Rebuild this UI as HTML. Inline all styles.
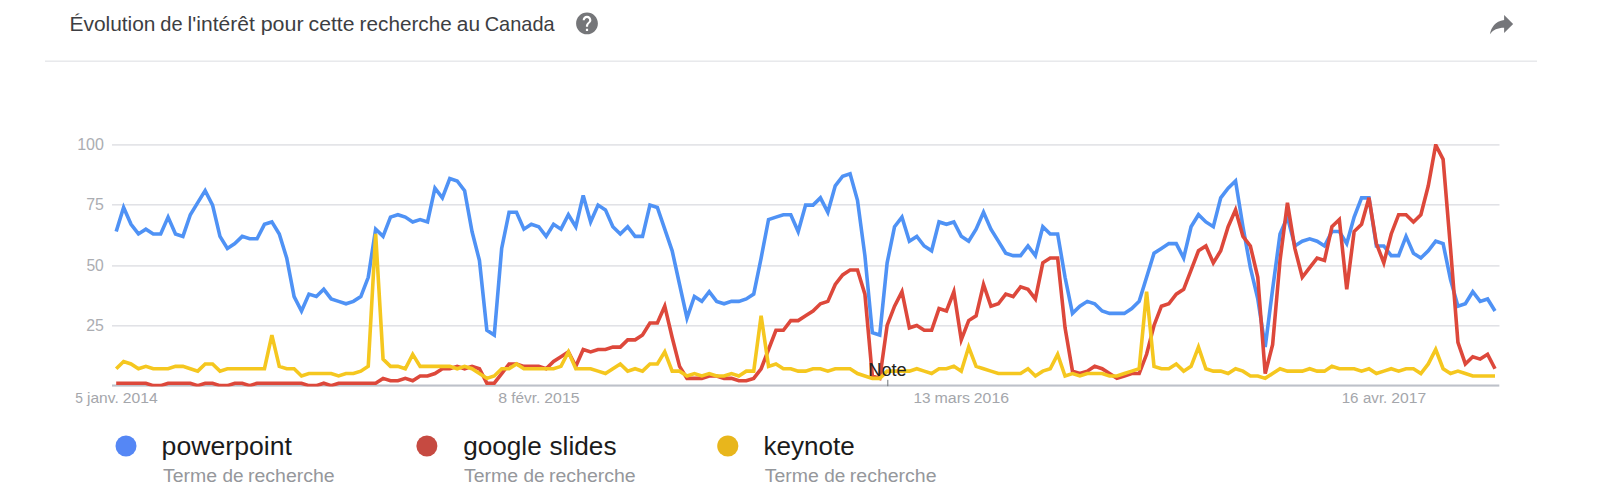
<!DOCTYPE html>
<html><head><meta charset="utf-8"><title>Trends</title>
<style>
html,body{margin:0;padding:0;background:#fff;}
body{width:1600px;height:500px;overflow:hidden;font-family:"Liberation Sans",sans-serif;}
svg{display:block;}
text{font-family:"Liberation Sans",sans-serif;}
</style></head><body>
<svg width="1600" height="500" viewBox="0 0 1600 500">
<rect width="1600" height="500" fill="#fff"/>
<!-- header -->
<g transform="translate(573.92,10.32) scale(1.09)"><path fill="#757679" d="M12 2C6.48 2 2 6.48 2 12s4.48 10 10 10 10-4.48 10-10S17.52 2 12 2zm1 17h-2v-2h2v2zm2.07-7.75l-.9.92C13.45 12.9 13 13.5 13 15h-2v-.5c0-1.1.45-2.1 1.17-2.83l1.24-1.26c.37-.36.59-.86.59-1.41 0-1.1-.9-2-2-2s-2 .9-2 2H8c0-2.21 1.79-4 4-4s4 1.79 4 4c0 .88-.36 1.68-.93 2.25z"/></g>
<g transform="translate(1517,8.6) scale(-1.289,1.28)"><path d="M10 9V5l-7 7 7 7v-4.1c5 0 8.5 1.6 11 5.1-1-5-4-10-11-11z" fill="#75767a"/></g>
<rect x="45" y="60.5" width="1492" height="1.4" fill="#e6e7ea"/>
<!-- grid -->
<g fill="#e0e1e5">
<rect x="112" y="144.15" width="1387.5" height="1.5"/>
<rect x="112" y="204.05" width="1387.5" height="1.5"/>
<rect x="112" y="265.15" width="1387.5" height="1.5"/>
<rect x="112" y="325.05" width="1387.5" height="1.5"/>
</g>
<rect x="112" y="384.5" width="1387.3" height="2.1" fill="#bdc1c9"/>
<!-- series -->
<clipPath id="cp"><rect x="111" y="144" width="1390" height="242.4"/></clipPath>
<g clip-path="url(#cp)" fill="none" stroke-width="3.6" stroke-linejoin="miter" stroke-miterlimit="3.95" stroke-linecap="butt">
<path stroke="#4f92f5" d="M116.20,231.55 L123.61,207.48 L131.03,224.33 L138.44,233.96 L145.85,229.15 L153.26,233.96 L160.68,233.96 L168.09,217.11 L175.50,233.96 L182.92,236.37 L190.33,214.70 L197.74,202.67 L205.15,190.63 L212.57,205.08 L219.98,236.37 L227.39,248.40 L234.81,243.59 L242.22,236.37 L249.63,238.77 L257.05,238.77 L264.46,224.33 L271.87,221.92 L279.28,233.96 L286.70,258.03 L294.11,296.54 L301.52,310.98 L308.94,294.13 L316.35,296.54 L323.76,289.32 L331.17,298.95 L338.59,301.36 L346.00,303.76 L353.41,301.36 L360.83,296.54 L368.24,277.29 L375.65,229.15 L383.06,236.37 L390.48,217.11 L397.89,214.70 L405.30,217.11 L412.72,221.92 L420.13,219.52 L427.54,221.92 L434.95,188.23 L442.37,197.85 L449.78,178.60 L457.19,181.01 L464.61,190.63 L472.02,231.55 L479.43,260.44 L486.85,330.24 L494.26,335.05 L501.67,248.40 L509.08,212.30 L516.50,212.30 L523.91,229.15 L531.32,224.33 L538.74,226.74 L546.15,236.37 L553.56,224.33 L560.97,229.15 L568.39,214.70 L575.80,226.74 L583.21,195.45 L590.63,221.92 L598.04,205.08 L605.45,209.89 L612.86,226.74 L620.28,233.96 L627.69,226.74 L635.10,236.37 L642.52,236.37 L649.93,205.08 L657.34,207.48 L664.75,229.15 L672.17,250.81 L679.58,284.51 L686.99,318.20 L694.41,296.54 L701.82,301.36 L709.23,291.73 L716.65,301.36 L724.06,303.76 L731.47,301.36 L738.88,301.36 L746.30,298.95 L753.71,294.13 L761.12,258.03 L768.54,219.52 L775.95,217.11 L783.36,214.70 L790.77,214.70 L798.19,231.55 L805.60,205.08 L813.01,205.08 L820.43,197.85 L827.84,212.30 L835.25,185.82 L842.66,176.19 L850.08,173.78 L857.49,200.26 L864.90,255.62 L872.32,332.65 L879.73,335.05 L887.14,262.84 L894.55,226.74 L901.97,217.11 L909.38,241.18 L916.79,236.37 L924.21,245.99 L931.62,250.81 L939.03,221.92 L946.45,224.33 L953.86,221.92 L961.27,236.37 L968.68,241.18 L976.10,229.15 L983.51,212.30 L990.92,229.15 L998.34,241.18 L1005.75,253.22 L1013.16,255.62 L1020.57,255.62 L1027.99,245.99 L1035.40,255.62 L1042.81,226.74 L1050.23,233.96 L1057.64,233.96 L1065.05,277.29 L1072.46,313.39 L1079.88,306.17 L1087.29,301.36 L1094.70,303.76 L1102.12,310.98 L1109.53,313.39 L1116.94,313.39 L1124.35,313.39 L1131.77,308.58 L1139.18,301.36 L1146.59,277.29 L1154.01,253.22 L1161.42,248.40 L1168.83,243.59 L1176.25,243.59 L1183.66,258.03 L1191.07,226.74 L1198.48,214.70 L1205.90,221.92 L1213.31,226.74 L1220.72,197.85 L1228.14,188.23 L1235.55,181.01 L1242.96,226.74 L1250.37,267.66 L1257.79,298.95 L1265.20,347.09 L1272.61,289.32 L1280.03,233.96 L1287.44,217.11 L1294.85,245.99 L1302.26,241.18 L1309.68,238.77 L1317.09,241.18 L1324.50,245.99 L1331.92,231.55 L1339.33,231.55 L1346.74,243.59 L1354.15,217.11 L1361.57,197.85 L1368.98,197.85 L1376.39,245.99 L1383.81,245.99 L1391.22,255.62 L1398.63,255.62 L1406.05,236.37 L1413.46,253.22 L1420.87,258.03 L1428.28,250.81 L1435.70,241.18 L1443.11,243.59 L1450.52,279.69 L1457.94,306.17 L1465.35,303.76 L1472.76,291.73 L1480.17,301.36 L1487.59,298.95 L1495.00,310.98"/>
<path stroke="#dd483b" d="M116.20,383.19 L123.61,383.19 L131.03,383.19 L138.44,383.19 L145.85,383.19 L153.26,385.60 L160.68,385.60 L168.09,383.19 L175.50,383.19 L182.92,383.19 L190.33,383.19 L197.74,385.60 L205.15,383.19 L212.57,383.19 L219.98,385.60 L227.39,385.60 L234.81,383.19 L242.22,383.19 L249.63,385.60 L257.05,383.19 L264.46,383.19 L271.87,383.19 L279.28,383.19 L286.70,383.19 L294.11,383.19 L301.52,383.19 L308.94,385.60 L316.35,385.60 L323.76,383.19 L331.17,385.60 L338.59,383.19 L346.00,383.19 L353.41,383.19 L360.83,383.19 L368.24,383.19 L375.65,383.19 L383.06,378.38 L390.48,380.79 L397.89,380.79 L405.30,378.38 L412.72,380.79 L420.13,375.97 L427.54,375.97 L434.95,373.56 L442.37,368.75 L449.78,368.75 L457.19,366.34 L464.61,368.75 L472.02,366.34 L479.43,368.75 L486.85,383.19 L494.26,383.19 L501.67,373.56 L509.08,363.94 L516.50,363.94 L523.91,366.34 L531.32,366.34 L538.74,366.34 L546.15,368.75 L553.56,361.53 L560.97,356.72 L568.39,351.90 L575.80,366.34 L583.21,349.50 L590.63,351.90 L598.04,349.50 L605.45,349.50 L612.86,347.09 L620.28,347.09 L627.69,339.87 L635.10,339.87 L642.52,335.05 L649.93,323.02 L657.34,323.02 L664.75,306.17 L672.17,337.46 L679.58,366.34 L686.99,378.38 L694.41,378.38 L701.82,378.38 L709.23,375.97 L716.65,375.97 L724.06,378.38 L731.47,378.38 L738.88,380.79 L746.30,380.79 L753.71,378.38 L761.12,368.75 L768.54,349.50 L775.95,330.24 L783.36,330.24 L790.77,320.61 L798.19,320.61 L805.60,315.80 L813.01,310.98 L820.43,303.76 L827.84,301.36 L835.25,284.51 L842.66,274.88 L850.08,270.06 L857.49,270.06 L864.90,294.13 L872.32,375.97 L879.73,378.38 L887.14,325.43 L894.55,306.17 L901.97,291.73 L909.38,327.83 L916.79,325.43 L924.21,330.24 L931.62,330.24 L939.03,308.58 L946.45,310.98 L953.86,291.73 L961.27,339.87 L968.68,320.61 L976.10,315.80 L983.51,284.51 L990.92,306.17 L998.34,303.76 L1005.75,294.13 L1013.16,296.54 L1020.57,286.91 L1027.99,289.32 L1035.40,298.95 L1042.81,262.84 L1050.23,258.03 L1057.64,258.03 L1065.05,327.83 L1072.46,371.16 L1079.88,373.56 L1087.29,371.16 L1094.70,366.34 L1102.12,368.75 L1109.53,373.56 L1116.94,378.38 L1124.35,375.97 L1131.77,373.56 L1139.18,373.56 L1146.59,354.31 L1154.01,325.43 L1161.42,306.17 L1168.83,303.76 L1176.25,294.13 L1183.66,289.32 L1191.07,270.06 L1198.48,250.81 L1205.90,245.99 L1213.31,262.84 L1220.72,250.81 L1228.14,226.74 L1235.55,209.89 L1242.96,236.37 L1250.37,245.99 L1257.79,277.29 L1265.20,373.56 L1272.61,344.68 L1280.03,260.44 L1287.44,202.67 L1294.85,248.40 L1302.26,277.29 L1309.68,267.66 L1317.09,258.03 L1324.50,260.44 L1331.92,226.74 L1339.33,219.52 L1346.74,289.32 L1354.15,231.55 L1361.57,224.33 L1368.98,197.85 L1376.39,243.59 L1383.81,262.84 L1391.22,233.96 L1398.63,214.70 L1406.05,214.70 L1413.46,221.92 L1420.87,214.70 L1428.28,185.82 L1435.70,144.90 L1443.11,159.34 L1450.52,248.40 L1457.94,342.27 L1465.35,363.94 L1472.76,356.72 L1480.17,359.12 L1487.59,354.31 L1495.00,368.75"/>
<path stroke="#f5c71f" d="M116.20,368.75 L123.61,361.53 L131.03,363.94 L138.44,368.75 L145.85,366.34 L153.26,368.75 L160.68,368.75 L168.09,368.75 L175.50,366.34 L182.92,366.34 L190.33,368.75 L197.74,371.16 L205.15,363.94 L212.57,363.94 L219.98,371.16 L227.39,368.75 L234.81,368.75 L242.22,368.75 L249.63,368.75 L257.05,368.75 L264.46,368.75 L271.87,335.05 L279.28,366.34 L286.70,368.75 L294.11,368.75 L301.52,375.97 L308.94,373.56 L316.35,373.56 L323.76,373.56 L331.17,373.56 L338.59,375.97 L346.00,373.56 L353.41,373.56 L360.83,371.16 L368.24,366.34 L375.65,233.96 L383.06,359.12 L390.48,366.34 L397.89,366.34 L405.30,368.75 L412.72,354.31 L420.13,366.34 L427.54,366.34 L434.95,366.34 L442.37,366.34 L449.78,366.34 L457.19,368.75 L464.61,366.34 L472.02,368.75 L479.43,373.56 L486.85,378.38 L494.26,375.97 L501.67,368.75 L509.08,368.75 L516.50,363.94 L523.91,368.75 L531.32,368.75 L538.74,368.75 L546.15,368.75 L553.56,368.75 L560.97,366.34 L568.39,351.90 L575.80,368.75 L583.21,368.75 L590.63,368.75 L598.04,371.16 L605.45,373.56 L612.86,368.75 L620.28,363.94 L627.69,371.16 L635.10,368.75 L642.52,371.16 L649.93,363.94 L657.34,363.94 L664.75,351.90 L672.17,371.16 L679.58,371.16 L686.99,375.97 L694.41,373.56 L701.82,375.97 L709.23,373.56 L716.65,375.97 L724.06,375.97 L731.47,373.56 L738.88,375.97 L746.30,371.16 L753.71,371.16 L761.12,315.80 L768.54,366.34 L775.95,363.94 L783.36,368.75 L790.77,368.75 L798.19,371.16 L805.60,371.16 L813.01,368.75 L820.43,368.75 L827.84,371.16 L835.25,368.75 L842.66,368.75 L850.08,368.75 L857.49,373.56 L864.90,375.97 L872.32,378.38 L879.73,378.38 L887.14,371.16 L894.55,371.16 L901.97,371.16 L909.38,371.16 L916.79,368.75 L924.21,371.16 L931.62,373.56 L939.03,368.75 L946.45,368.75 L953.86,366.34 L961.27,371.16 L968.68,347.09 L976.10,366.34 L983.51,368.75 L990.92,371.16 L998.34,373.56 L1005.75,373.56 L1013.16,373.56 L1020.57,373.56 L1027.99,368.75 L1035.40,375.97 L1042.81,371.16 L1050.23,368.75 L1057.64,354.31 L1065.05,375.97 L1072.46,373.56 L1079.88,375.97 L1087.29,373.56 L1094.70,373.56 L1102.12,373.56 L1109.53,375.97 L1116.94,375.97 L1124.35,373.56 L1131.77,371.16 L1139.18,368.75 L1146.59,291.73 L1154.01,366.34 L1161.42,368.75 L1168.83,368.75 L1176.25,363.94 L1183.66,371.16 L1191.07,366.34 L1198.48,347.09 L1205.90,368.75 L1213.31,371.16 L1220.72,371.16 L1228.14,373.56 L1235.55,368.75 L1242.96,371.16 L1250.37,375.97 L1257.79,375.97 L1265.20,378.38 L1272.61,373.56 L1280.03,368.75 L1287.44,371.16 L1294.85,371.16 L1302.26,371.16 L1309.68,368.75 L1317.09,371.16 L1324.50,371.16 L1331.92,366.34 L1339.33,368.75 L1346.74,368.75 L1354.15,368.75 L1361.57,371.16 L1368.98,368.75 L1376.39,373.56 L1383.81,371.16 L1391.22,368.75 L1398.63,371.16 L1406.05,368.75 L1413.46,368.75 L1420.87,373.56 L1428.28,363.94 L1435.70,349.50 L1443.11,368.75 L1450.52,373.56 L1457.94,371.16 L1465.35,373.56 L1472.76,375.97 L1480.17,375.97 L1487.59,375.97 L1495.00,375.97"/>
</g>
<!-- note -->
<rect x="887.3" y="379.8" width="1" height="6.4" fill="#70757a"/>
<text transform="translate(868.30,376.3) scale(1.0400,1)" font-size="17.5" font-weight="normal" fill="#222">Note</text>
<!-- texts -->
<text transform="translate(69.48,31.3) scale(1.0459,1)" font-size="20" font-weight="normal" fill="#3d3e42">Évolution</text>
<text transform="translate(160.35,31.3) scale(1.0024,1)" font-size="20" font-weight="normal" fill="#3d3e42">de</text>
<text transform="translate(187.58,31.3) scale(1.0528,1)" font-size="20" font-weight="normal" fill="#3d3e42">l'intérêt</text>
<text transform="translate(260.66,31.3) scale(1.0727,1)" font-size="20" font-weight="normal" fill="#3d3e42">pour</text>
<text transform="translate(308.61,31.3) scale(1.0587,1)" font-size="20" font-weight="normal" fill="#3d3e42">cette</text>
<text transform="translate(359.60,31.3) scale(1.0363,1)" font-size="20" font-weight="normal" fill="#3d3e42">recherche</text>
<text transform="translate(456.82,31.3) scale(1.0420,1)" font-size="20" font-weight="normal" fill="#3d3e42">au</text>
<text transform="translate(484.70,31.3) scale(0.9978,1)" font-size="20" font-weight="normal" fill="#3d3e42">Canada</text>
<text transform="translate(77.17,149.9) scale(1.0286,1)" font-size="15.6" font-weight="normal" fill="#abadb2">100</text>
<text transform="translate(86.14,209.8) scale(1.0187,1)" font-size="15.6" font-weight="normal" fill="#abadb2">75</text>
<text transform="translate(86.40,270.9) scale(1.0031,1)" font-size="15.6" font-weight="normal" fill="#abadb2">50</text>
<text transform="translate(86.14,330.8) scale(1.0187,1)" font-size="15.6" font-weight="normal" fill="#abadb2">25</text>
<text transform="translate(75.15,402.9) scale(0.9067,1)" font-size="15.2" font-weight="normal" fill="#a4a6ab">5</text>
<text transform="translate(87.01,402.9) scale(1.0248,1)" font-size="15.2" font-weight="normal" fill="#a4a6ab">janv.</text>
<text transform="translate(122.83,402.9) scale(1.0321,1)" font-size="15.2" font-weight="normal" fill="#a4a6ab">2014</text>
<text transform="translate(498.28,402.9) scale(1.0483,1)" font-size="15.2" font-weight="normal" fill="#a4a6ab">8</text>
<text transform="translate(511.25,402.9) scale(1.0092,1)" font-size="15.2" font-weight="normal" fill="#a4a6ab">févr.</text>
<text transform="translate(544.32,402.9) scale(1.0400,1)" font-size="15.2" font-weight="normal" fill="#a4a6ab">2015</text>
<text transform="translate(913.49,402.9) scale(1.0098,1)" font-size="15.2" font-weight="normal" fill="#a4a6ab">13</text>
<text transform="translate(934.45,402.9) scale(1.0543,1)" font-size="15.2" font-weight="normal" fill="#a4a6ab">mars</text>
<text transform="translate(973.82,402.9) scale(1.0400,1)" font-size="15.2" font-weight="normal" fill="#a4a6ab">2016</text>
<text transform="translate(1341.70,402.9) scale(0.9967,1)" font-size="15.2" font-weight="normal" fill="#a4a6ab">16</text>
<text transform="translate(1363.01,402.9) scale(0.9890,1)" font-size="15.2" font-weight="normal" fill="#a4a6ab">avr.</text>
<text transform="translate(1391.33,402.9) scale(1.0326,1)" font-size="15.2" font-weight="normal" fill="#a4a6ab">2017</text>
<text transform="translate(161.60,454.7) scale(1.0667,1)" font-size="25" font-weight="normal" fill="#1b1b1b">powerpoint</text>
<text transform="translate(463.15,454.7) scale(1.0466,1)" font-size="25" font-weight="normal" fill="#1b1b1b">google</text>
<text transform="translate(549.51,454.7) scale(1.0490,1)" font-size="25" font-weight="normal" fill="#1b1b1b">slides</text>
<text transform="translate(763.44,454.7) scale(1.0424,1)" font-size="25" font-weight="normal" fill="#1b1b1b">keynote</text>
<text transform="translate(162.94,481.9) scale(1.0412,1)" font-size="18.7" font-weight="normal" fill="#95979b">Terme</text>
<text transform="translate(222.54,481.9) scale(1.0130,1)" font-size="18.7" font-weight="normal" fill="#95979b">de</text>
<text transform="translate(248.00,481.9) scale(1.0432,1)" font-size="18.7" font-weight="normal" fill="#95979b">recherche</text>
<text transform="translate(463.94,481.9) scale(1.0412,1)" font-size="18.7" font-weight="normal" fill="#95979b">Terme</text>
<text transform="translate(523.54,481.9) scale(1.0130,1)" font-size="18.7" font-weight="normal" fill="#95979b">de</text>
<text transform="translate(549.00,481.9) scale(1.0432,1)" font-size="18.7" font-weight="normal" fill="#95979b">recherche</text>
<text transform="translate(764.74,481.9) scale(1.0412,1)" font-size="18.7" font-weight="normal" fill="#95979b">Terme</text>
<text transform="translate(824.34,481.9) scale(1.0130,1)" font-size="18.7" font-weight="normal" fill="#95979b">de</text>
<text transform="translate(849.80,481.9) scale(1.0432,1)" font-size="18.7" font-weight="normal" fill="#95979b">recherche</text>
<!-- legend -->
<circle cx="126" cy="446" r="10.5" fill="#5587f5"/>
<circle cx="426.9" cy="446" r="10.5" fill="#c64a41"/>
<circle cx="727.8" cy="446" r="10.6" fill="#e8b61c"/>
</svg>
</body></html>
